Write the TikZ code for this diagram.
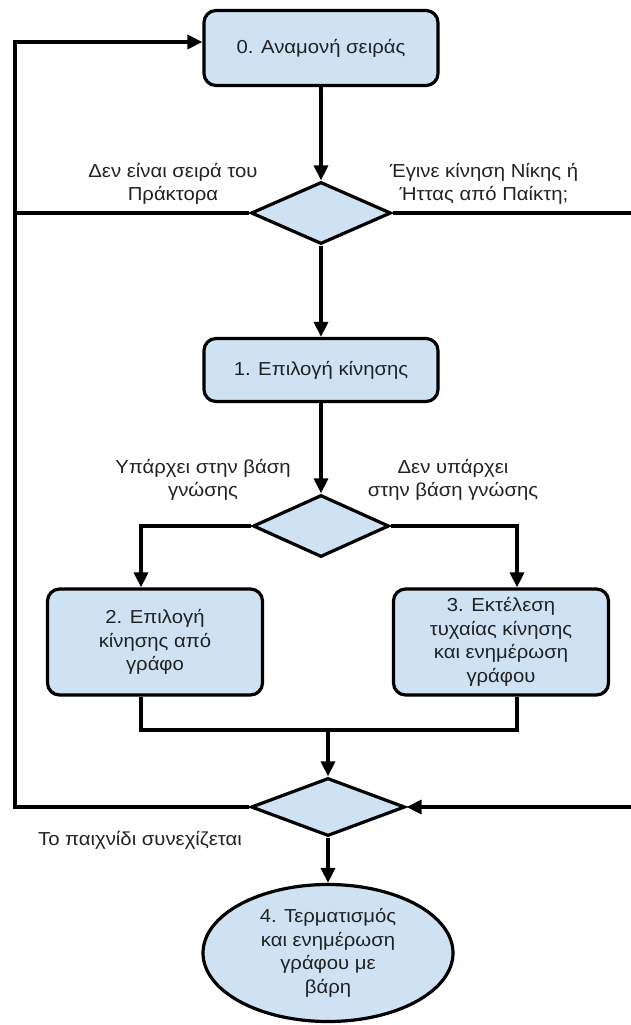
\documentclass[tikz,border=0pt]{standalone}
\usepackage{fontspec}
\setmainfont{Liberation Sans}[FakeStretch=1.08]
\usetikzlibrary{shapes.geometric,arrows.meta}
\definecolor{boxblue}{RGB}{207,226,243}
\definecolor{ink}{RGB}{34,34,34}
\begin{document}
\begin{tikzpicture}[x=1pt,y=-1pt,
  every node/.style={font=\fontsize{18.8}{23.5}\selectfont, text=ink, align=center},
  proc/.style={draw=black, line width=3.2pt, fill=boxblue, rounded corners=12pt,
    rectangle, inner sep=0pt},
  dec/.style={draw=black, line width=3.2pt, fill=boxblue, diamond, inner sep=0pt},
  term/.style={draw=black, line width=3.2pt, fill=boxblue, ellipse, inner sep=0pt},
  link/.style={line width=3.2pt, draw=black},
  flow/.style={link, -{Triangle[length=15pt,width=14pt]}},
  lbl/.style={inner sep=0pt}]
\useasboundingbox (0,0) rectangle (631,1025);

% process steps and decisions
\node[proc, minimum width=234pt, minimum height=75pt] (n0) at (321,48) {0. Αναμονή σειράς};
\node[dec, minimum width=140pt, minimum height=62pt] (d1) at (321,213) {};
\node[proc, minimum width=234pt, minimum height=63pt] (n1) at (321,370) {1. Επιλογή κίνησης};
\node[dec, minimum width=136pt, minimum height=62pt] (d2) at (321,526) {};
\node[proc, minimum width=215pt, minimum height=106pt] (n2) at (155,642) {2. Επιλογή\\κίνησης από\\γράφο};
\node[proc, minimum width=215pt, minimum height=106pt] (n3) at (501,642) {3. Εκτέλεση\\τυχαίας κίνησης\\και ενημέρωση\\γράφου};
\node[dec, minimum width=154pt, minimum height=58pt] (d3) at (328,807) {};
\node[term, minimum width=250pt, minimum height=137pt] (n4) at (328,953) {4. Τερματισμός\\και ενημέρωση\\γράφου με\\βάρη};

% branch labels
\node[lbl] (l1a) at (173,184) {Δεν είναι σειρά του\\Πράκτορα};
\node[lbl] (l1b) at (484,184) {Έγινε κίνηση Νίκης ή\\Ήττας από Παίκτη;};
\node[lbl] (l2a) at (203,480) {Υπάρχει στην βάση\\γνώσης};
\node[lbl] (l2b) at (453,480) {Δεν υπάρχει\\στην βάση γνώσης};
\node[lbl] (l3) at (140,840) {Το παιχνίδι συνεχίζεται};

% routing points
\coordinate (lt) at (15,42);
\coordinate (rt) at (634,213);
\coordinate (c2) at (141,0);
\coordinate (c3) at (517,0);
\coordinate (mj) at (328,730);

% main column
\draw[flow] (n0.south) -- (d1.north);
\draw[flow] (d1.south) -- (n1.north);
\draw[flow] (n1.south) -- (d2.north);

% knowledge-base branches
\draw[flow] (d2.west) -| (c2 |- n2.north);
\draw[flow] (d2.east) -| (c3 |- n3.north);
\draw[link] (c2 |- n2.south) |- (c3 |- mj) -- (c3 |- n3.south);
\draw[flow] (mj) -- (d3.north);
\draw[flow] (d3.south) -- (n4.north);

% loop back to waiting
\draw[link] (d1.west) -- (d1.west -| lt);
\draw[flow] (d3.west) -| (lt) -- (lt -| n0.west);

% win/loss path along the right edge
\draw[flow] (d1.east) -- (rt) -- (rt |- d3.east) -- (d3.east);
\end{tikzpicture}
\end{document}
